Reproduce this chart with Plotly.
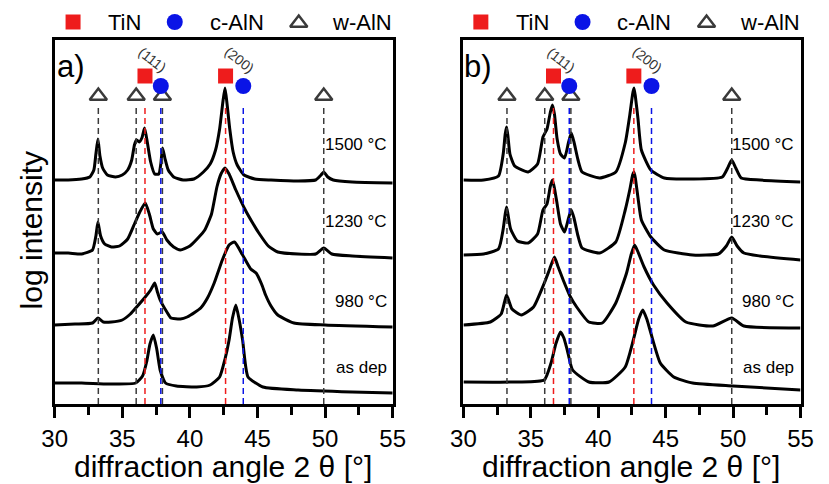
import plotly.graph_objects as go

# ---- XRD patterns (2-theta in degrees, log intensity with vertical offsets, a.u.) ----
# panel a)
a_1500_x = [30.0, 31.0, 32.0, 32.6, 32.9, 33.05, 33.2, 33.35, 33.55, 33.9, 34.5, 35.0, 35.4, 35.7, 35.9, 36.05, 36.25, 36.45, 36.65, 36.85, 37.1, 37.4, 37.7, 37.85, 37.98, 38.15, 38.4, 38.8, 39.5, 40.3, 41.0, 41.5, 41.9, 42.2, 42.45, 42.6, 42.75, 42.95, 43.2, 43.5, 44.0, 44.8, 46.0, 48.0, 49.3, 49.7, 49.9, 50.2, 50.6, 52.0, 55.0]
a_1500_y = [224, 224, 225, 227, 234, 250, 265, 248, 236, 229, 227, 229, 234, 244, 259, 264, 262, 266, 276, 262, 242, 230, 230, 240, 256, 246, 234, 227, 224, 225, 232, 240, 254, 275, 303, 316, 300, 275, 252, 239, 229, 225, 224, 223, 224, 229, 232, 227, 224, 222, 221]

a_1230_x = [30.0, 31.0, 32.0, 32.8, 33.05, 33.2, 33.4, 33.7, 34.2, 34.8, 35.4, 35.9, 36.3, 36.7, 37.0, 37.3, 37.6, 37.95, 38.3, 38.8, 39.3, 40.0, 40.6, 41.1, 41.6, 42.0, 42.3, 42.6, 42.9, 43.4, 44.1, 44.6, 45.1, 45.8, 46.5, 48.0, 49.3, 49.9, 50.5, 52.0, 55.0]
a_1230_y = [151, 151, 150, 154, 168, 182, 168, 160, 157, 158, 165, 180, 192, 201, 190, 175, 170, 172, 164, 157, 154, 158, 166, 174, 190, 217, 230, 236, 230, 214, 194, 182, 171, 158, 152, 150, 150, 156, 150, 148, 146]

a_980_x = [30.0, 31.5, 32.8, 33.2, 33.6, 34.2, 35.0, 35.6, 36.0, 36.7, 37.1, 37.4, 37.6, 37.8, 38.3, 38.6, 39.3, 39.8, 40.4, 40.8, 41.3, 41.8, 42.4, 42.9, 43.3, 43.9, 44.5, 44.9, 45.3, 45.6, 46.0, 46.5, 47.7, 50.0, 55.0]
a_980_y = [79, 80, 81, 86, 82, 82, 84, 90, 96, 107, 114, 121, 112, 104, 92, 86, 85, 87, 92, 96, 106, 121, 144, 159, 162, 149, 135, 131, 120, 109, 98, 89, 81, 79, 77]

a_dep_x = [30.0, 32.0, 34.0, 36.0, 36.5, 36.8, 37.05, 37.3, 37.55, 37.8, 38.2, 39.0, 40.5, 41.5, 42.2, 42.6, 42.9, 43.15, 43.4, 43.65, 43.9, 44.3, 45.4, 48.0, 52.0, 55.0]
a_dep_y = [21, 21, 20, 21, 28, 42, 60, 69, 55, 34, 21, 18, 17, 19, 27, 45, 64, 86, 99, 84, 64, 27, 17, 14, 12, 11]

# panel b)
b_1500_x = [30.0, 31.5, 32.6, 32.95, 33.1, 33.2, 33.3, 33.45, 33.8, 34.8, 35.5, 35.9, 36.2, 36.45, 36.6, 36.75, 36.95, 37.2, 37.5, 37.8, 38.0, 38.2, 38.5, 38.8, 40.1, 41.3, 42.0, 42.35, 42.55, 42.65, 42.75, 42.95, 43.2, 43.9, 44.9, 47.0, 49.2, 49.6, 49.9, 50.2, 50.6, 52.0, 55.0]
b_1500_y = [224, 224, 228, 250, 270, 277, 268, 250, 238, 232, 240, 267, 275, 292, 299, 290, 265, 250, 246, 262, 271, 262, 244, 232, 226, 232, 261, 290, 310, 316, 308, 285, 254, 234, 226, 225, 227, 236, 244, 236, 226, 224, 222]

b_1230_x = [30.0, 31.5, 32.6, 32.95, 33.1, 33.2, 33.3, 33.5, 34.0, 34.8, 35.5, 35.9, 36.2, 36.45, 36.6, 36.75, 36.95, 37.2, 37.5, 37.8, 38.0, 38.2, 38.5, 38.8, 40.1, 41.3, 42.0, 42.35, 42.55, 42.65, 42.75, 42.95, 43.2, 43.9, 44.9, 47.0, 48.9, 49.5, 49.9, 50.3, 50.8, 52.0, 55.0]
b_1230_y = [149, 150, 155, 175, 190, 197, 190, 175, 163, 161, 170, 194, 200, 218, 224, 216, 200, 180, 172, 186, 194, 186, 168, 156, 151, 162, 194, 215, 229, 232, 226, 206, 184, 167, 154, 149, 150, 158, 167, 158, 151, 148, 144]

b_980_x = [30.0, 32.0, 32.8, 33.05, 33.2, 33.4, 33.6, 34.3, 35.2, 36.0, 36.4, 36.75, 37.0, 37.4, 37.9, 38.4, 39.3, 40.3, 41.3, 42.1, 42.45, 42.7, 42.95, 43.4, 44.1, 45.1, 46.5, 48.5, 49.9, 50.8, 55.0]
b_980_y = [79, 82, 90, 102, 109, 102, 95, 89, 97, 121, 135, 147, 138, 124, 108, 97, 82, 81, 101, 131, 150, 159, 152, 137, 119, 101, 82, 78, 86, 78, 76]

b_dep_x = [30.0, 34.0, 36.0, 36.5, 36.85, 37.2, 37.45, 37.7, 38.1, 39.3, 40.8, 42.0, 42.6, 43.0, 43.3, 43.6, 43.9, 44.6, 45.6, 47.0, 50.0, 55.0]
b_dep_y = [22, 22, 24, 41, 60, 72, 66, 54, 34, 22, 22, 37, 64, 85, 94, 85, 71, 41, 27, 21, 18, 14]

# sample labels and their heights on the offset scale
sample_labels = ["1500 °C", "1230 °C", "980 °C", "as dep"]
sample_label_y = [259, 182, 103, 37]

# reference peak positions (2-theta, degrees)
tin_pos = [36.68, 42.64]
c_aln_pos = [37.85, 43.95]
w_aln_pos = [33.23, 36.03, 37.97, 49.9]
hkl_labels = ["(111)", "(200)"]

# phase key
key_names = ["TiN", "c-AlN", "w-AlN"]

FONT = "Liberation Sans, Arial, sans-serif"
RED = "#ee1c1c"
BLUE = "#0a14e6"
GRAY = "#3a3a3a"

W, H = 829, 484
Y_TOP, Y_BOT = 40, 404

panels = [
    ("x", "y", 0, [(a_1500_x, a_1500_y), (a_1230_x, a_1230_y), (a_980_x, a_980_y), (a_dep_x, a_dep_y)], "a)"),
    ("x2", "y2", 421, [(b_1500_x, b_1500_y), (b_1230_x, b_1230_y), (b_980_x, b_980_y), (b_dep_x, b_dep_y)], "b)"),
]

fig = go.Figure()
annotations = []

MARK_TOP = 300      # top of the dashed guide lines
SQ_Y, CIRC_Y, TRI_Y = 328, 318, 308

# key layout in page pixels (overlay axis x3/y3): marker x, text x
KEY_MARK_X = [62, 167, 295]
KEY_TEXT_X = [96, 201, 327]
KEY_Y = 22
key_styles = [
    dict(symbol="square", size=15, color=RED),
    dict(symbol="circle", size=16, color=BLUE),
    dict(symbol="triangle-up-open", size=15, color=GRAY, line=dict(width=2.5, color=GRAY)),
]

for xa, ya, dx, curves, tag in panels:
    # diffraction patterns
    for cx, cy in curves:
        fig.add_trace(go.Scatter(x=cx, y=cy, xaxis=xa, yaxis=ya, mode="lines",
                                 line=dict(color="black", width=3, shape="spline", smoothing=0.5),
                                 hoverinfo="skip"))
    # dashed guides
    for pos_list, col in ((w_aln_pos, GRAY), (tin_pos, RED), (c_aln_pos, BLUE)):
        for p in pos_list:
            fig.add_trace(go.Scatter(x=[p, p], y=[0, MARK_TOP], xaxis=xa, yaxis=ya, mode="lines",
                                     line=dict(color=col, width=1.5, dash="6px,4px"), hoverinfo="skip"))
    # phase markers above the peaks
    fig.add_trace(go.Scatter(x=w_aln_pos, y=[TRI_Y] * len(w_aln_pos), xaxis=xa, yaxis=ya, mode="markers",
                             marker=dict(symbol="triangle-up-open", size=15, color=GRAY, line=dict(width=2.5, color=GRAY)),
                             cliponaxis=False, hoverinfo="skip"))
    fig.add_trace(go.Scatter(x=tin_pos, y=[SQ_Y] * 2, xaxis=xa, yaxis=ya, mode="markers",
                             marker=dict(symbol="square", size=15, color=RED, line=dict(width=0)),
                             cliponaxis=False, hoverinfo="skip"))
    fig.add_trace(go.Scatter(x=c_aln_pos, y=[CIRC_Y] * 2, xaxis=xa, yaxis=ya, mode="markers",
                             marker=dict(symbol="circle", size=16, color=BLUE, line=dict(width=0)),
                             cliponaxis=False, hoverinfo="skip"))
    # key above the frame
    for mx, tx, name, st in zip(KEY_MARK_X, KEY_TEXT_X, key_names, key_styles):
        fig.add_trace(go.Scatter(x=[mx + dx], y=[KEY_Y + (1 if st["symbol"].startswith("triangle") else 0)],
                                 xaxis="x3", yaxis="y3", mode="markers", marker=st,
                                 cliponaxis=False, hoverinfo="skip"))
        annotations.append(dict(x=tx + dx, y=KEY_Y, xref="x3", yref="y3", text=name, showarrow=False,
                                xanchor="left", yanchor="middle",
                                font=dict(family=FONT, size=22, color="black")))
    # panel tag, tucked into the top-left corner of the frame
    annotations.append(dict(x=43 + dx, y=66, xref="x3", yref="y3", text=tag, showarrow=False,
                            xanchor="left", yanchor="middle", font=dict(family=FONT, size=31, color="black")))
    # Miller indices
    for lbl, xx in zip(hkl_labels, [37.25, 43.68]):
        annotations.append(dict(x=xx, y=344, xref=xa, yref=ya, text=lbl, showarrow=False, textangle=38,
                                font=dict(family=FONT, size=14, color="#333333")))
    # sample labels
    for lbl, yy in zip(sample_labels, sample_label_y):
        annotations.append(dict(x=54.7, y=yy, xref=xa, yref=ya, text=lbl, showarrow=False,
                                xanchor="right", yanchor="middle", font=dict(family=FONT, size=17, color="black")))
    # x-axis title
    annotations.append(dict(x=217 + dx, y=466, xref="x3", yref="y3",
                            text="diffraction angle 2 θ [°]", showarrow=False,
                            xanchor="center", yanchor="middle", font=dict(family=FONT, size=30, color="black")))

annotations.append(dict(x=19, y=230, xref="x3", yref="y3", text="log intensity",
                        showarrow=False, textangle=-90, xanchor="center", yanchor="middle",
                        font=dict(family=FONT, size=30, color="black")))

xaxis_common = dict(range=[30, 55], showgrid=False, zeroline=False, showline=True, mirror=True,
                    linecolor="black", linewidth=3, ticks="outside", ticklen=11, tickwidth=2.5,
                    tickcolor="black", tickvals=[30, 35, 40, 45, 50, 55],
                    tickfont=dict(family=FONT, size=24, color="black"),
                    minor=dict(tickvals=[32.5, 37.5, 42.5, 47.5, 52.5], ticks="outside", ticklen=8,
                               tickwidth=2.5, tickcolor="black"))
yaxis_common = dict(range=[0, Y_BOT - Y_TOP], showgrid=False, zeroline=False, showline=True, mirror=True,
                    linecolor="black", linewidth=3, showticklabels=False, ticks="",
                    domain=[1 - Y_BOT / H, 1 - Y_TOP / H])

fig.update_layout(
    width=W, height=H, autosize=False,
    margin=dict(l=0, r=0, t=0, b=0, pad=0),
    paper_bgcolor="white", plot_bgcolor="rgba(0,0,0,0)",
    showlegend=False,
    xaxis=dict(domain=[43 / W, 392 / W], anchor="y", **xaxis_common),
    yaxis=dict(anchor="x", **yaxis_common),
    xaxis2=dict(domain=[465 / W, 813 / W], anchor="y2", **xaxis_common),
    yaxis2=dict(anchor="x2", **yaxis_common),
    # invisible page-pixel overlay used for the key and titles
    xaxis3=dict(domain=[0, 1], range=[0, W], visible=False, anchor="y3", fixedrange=True),
    yaxis3=dict(domain=[0, 1], range=[H, 0], visible=False, anchor="x3", fixedrange=True),
    annotations=annotations,
)

fig.write_html(
    "out.html",
    config={"responsive": False, "displayModeBar": False},
    default_width=f"{W}px",
    default_height=f"{H}px",
    post_script="document.body.style.margin='0';document.body.style.overflow='hidden';",
)
